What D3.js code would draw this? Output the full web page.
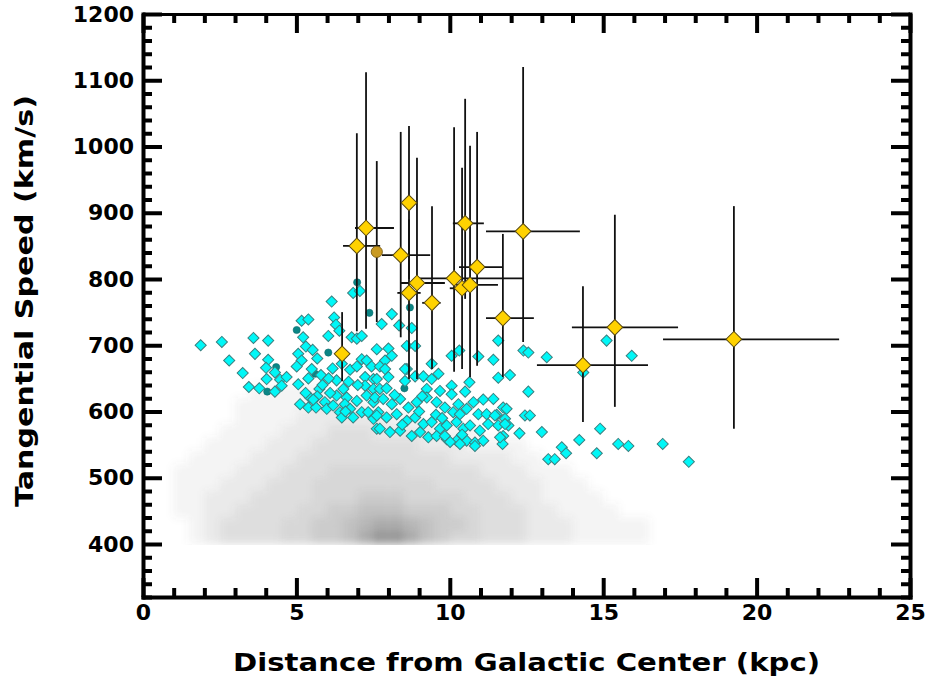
<!DOCTYPE html>
<html><head><meta charset="utf-8">
<script src="https://cdn.jsdelivr.net/npm/d3@7"></script>
<style>
body{margin:0;background:#fff;}
svg{display:block;}
</style></head><body>
<svg id="chart" width="927" height="681"></svg>
<script>
// ---------------- DATA ----------------
// Cyan diamonds (distance kpc, tangential speed km/s)
const cyanX = [1.88,2.57,3.60,4.08,2.81,3.65,4.08,3.25,4.01,4.03,4.47,4.68,4.30,3.45,3.79,4.30,4.52,5.06,5.17,5.39,
5.22,5.31,5.53,5.06,5.17,5.01,5.68,5.50,5.39,6.15,6.23,6.29,6.40,6.04,6.18,6.31,5.75,5.44,5.68,5.12,
5.39,5.64,5.93,5.99,6.20,6.31,6.53,6.64,6.58,6.42,6.48,6.75,6.85,6.97,6.80,6.97,7.13,6.85,7.07,6.75,
6.97,7.13,7.29,7.45,7.24,7.51,7.24,7.51,7.29,7.51,7.13,7.34,7.51,7.67,7.62,6.48,
8.11,7.78,8.35,8.76,7.62,8.00,8.11,8.60,8.87,7.89,8.60,8.87,9.14,9.41,9.41,9.63,10.06,10.31,10.64,10.93,
11.42,11.58,11.58,11.96,12.40,12.56,13.16,12.56,12.45,12.61,12.27,13.00,14.90,14.22,13.65,13.79,13.21,13.42,14.79,15.49,
15.82,16.94,17.79,15.11,15.93,14.35,11.74,11.85,11.80,11.91,11.74,11.72,11.58,
7.72,7.89,8.00,7.62,7.72,7.94,8.54,8.54,10.06,9.25,9.68,10.06,10.50,11.09,11.42,10.77,11.53,7.56,7.83,8.11,
8.38,8.65,8.92,9.25,9.57,9.84,10.28,10.55,10.93,11.20,11.47,7.62,7.94,8.27,8.60,8.87,9.14,9.41,9.68,9.90,
10.22,10.44,10.66,10.98,11.25,7.72,8.05,8.38,8.76,9.03,9.30,9.57,9.90,10.22,10.55,10.82,11.09,
10.11,10.33,11.80,11.64,9.84,10.82,10.33,10.01,
5.85,6.10,6.70,7.00,5.30,5.80,8.20,8.45,9.00,9.55,9.10,9.75,10.40,6.05,6.60,5.55];
const cyanY = [700,705,711,707,677,687,678,658,666,649,648,652,659,637,635,630,639,641,737,739,
712,698,693,687,677,668,680,664,650,766,742,731,722,714,665,647,634,621,623,611,
606,606,614,604,609,624,634,621,611,599,591,604,591,616,712,710,714,779,782,663,
668,679,677,668,652,649,639,634,624,614,599,599,589,599,574,672,
747,732,730,726,694,695,684,699,699,677,664,653,653,672,649,657,684,692,644,683,
678,707,651,655,692,689,682,630,594,594,567,569,574,557,546,537,528,528,537,551,
548,551,524,707,684,659,606,604,589,579,563,551,579,
668,664,652,649,634,635,664,646,639,634,631,626,630,618,619,614,595,621,619,611,
619,606,614,621,614,606,611,604,596,596,594,594,591,596,586,591,581,584,574,579,
584,574,579,571,581,574,569,571,563,569,561,563,558,556,556,553,556,
599,596,581,561,563,548,551,554,
640,628,645,640,628,655,625,580,600,595,623,590,565,650,600,618];

// Dark teal dots
const tealX = [6.98,7.38,8.70,5.01,6.04,4.34,4.05,5.61,8.52];
const tealY = [795,749,757,723,689,667,630,657,635];

// Gold diamonds with asymmetric error bars
const starX   = [6.97,7.27,8.40,8.67,8.67,8.93,9.42,10.14,10.40,10.50,10.66,10.89,12.39,11.73,6.49,14.34,15.38,19.26];
const starY   = [850,877,836,915,779,794,764,801,786,884,791,818,872,741,687,670,727,709];
const starXlo = [6.52,6.91,7.79,8.67,8.29,8.41,9.10,9.00,10.00,10.10,10.20,10.30,11.18,11.18,6.49,12.84,13.98,16.95];
const starXhi = [7.73,8.18,9.36,8.67,9.05,9.84,9.70,12.39,10.80,11.11,11.57,11.73,14.24,12.74,6.49,16.46,17.44,22.69];
const starYlo = [721,725,712,800,649,649,664,660,664,770,652,669,705,652,646,584,607,574];
const starYhi = [1020,1112,1022,1031,890,983,910,1029,968,1072,1001,1022,1120,868,750,789,897,910];

// Brown circle
const circX = [7.62], circY = [841], circYlo = [735], circYhi = [978];

// Grey background population: relative density per 0.5 kpc x 20 km/s cell
const greyBinX0 = [1.0,1.5,2.0,2.5,3.0,3.5,4.0,4.5,5.0,5.5,6.0,6.5,7.0,7.5,8.0,8.5,9.0,9.5,10.0,10.5,11.0,11.5,12.0,12.5,13.0,13.5,14.0,14.5,15.0,15.5,16.0,16.5];
const greyBinY0 = [400,420,440,460,480,500,520,540,560,580,600,620];
const greyDensity = [
 [0,1,2,3,3,3,3,4,4,5,5,6,8,10,10,8,6,5,4,4,3,3,3,2,2,2,1,1,1,1,1,0],
 [0,1,2,3,3,3,3,4,4,5,5,6,7,8,8,7,6,5,5,4,3,3,3,2,2,2,1,1,1,1,1,0],
 [1,1,2,2,3,3,3,3,4,4,5,5,6,6,6,5,5,5,4,4,3,3,3,2,2,1,1,1,1,0,0,0],
 [1,1,2,2,2,3,3,3,3,4,4,4,5,5,5,4,4,4,4,3,3,3,2,2,1,1,1,1,0,0,0,0],
 [1,1,1,2,2,2,3,3,3,4,4,4,4,4,4,4,4,3,3,3,3,2,2,2,1,1,1,0,0,0,0,0],
 [1,1,1,1,2,2,2,3,3,3,4,4,4,4,4,3,3,3,3,3,2,2,2,1,1,1,0,0,0,0,0,0],
 [0,1,1,1,1,2,2,2,3,3,3,3,3,3,3,3,3,3,2,2,2,2,1,1,0,0,0,0,0,0,0,0],
 [0,0,1,1,1,1,2,2,2,3,3,3,3,3,3,3,2,2,2,1,1,1,1,0,0,0,0,0,0,0,0,0],
 [0,0,0,1,1,1,1,2,2,2,3,3,3,2,2,2,2,1,1,1,0,0,0,0,0,0,0,0,0,0,0,0],
 [0,0,0,0,1,1,1,1,2,2,2,2,2,2,1,1,0,0,0,0,0,0,0,0,0,0,0,0,0,0,0,0],
 [0,0,0,0,1,1,1,1,1,2,2,1,1,0,0,0,0,0,0,0,0,0,0,0,0,0,0,0,0,0,0,0],
 [0,0,0,0,0,1,1,1,1,1,0,0,0,0,0,0,0,0,0,0,0,0,0,0,0,0,0,0,0,0,0,0]
];

const xTicks = [0,5,10,15,20,25];
const yTicks = [400,500,600,700,800,900,1000,1100,1200];
const xLabel = "Distance from Galactic Center (kpc)";
const yLabel = "Tangential Speed (km/s)";

// ---------------- CHART ----------------
const svg = d3.select("#chart");
const L = 143, R = 910, T = 14, B = 597;
const x = d3.scaleLinear().domain([0,25]).range([L,R]);
const y = d3.scaleLinear().domain([320,1200]).range([B,T]);
const FONT = "'DejaVu Sans', sans-serif";

const defs = svg.append("defs");
defs.append("filter").attr("id","blur").attr("x","-10%").attr("y","-10%").attr("width","120%").attr("height","120%")
  .append("feGaussianBlur").attr("stdDeviation",4.5);
defs.append("clipPath").attr("id","cloudClip").append("rect")
  .attr("x",L).attr("y",T).attr("width",R-L).attr("height",y(400)-T+1);

// grey cloud
const cloud = svg.append("g").attr("clip-path","url(#cloudClip)").append("g").attr("filter","url(#blur)");
greyDensity.forEach((row,i)=>{
  row.forEach((d,j)=>{
    if(d<=0) return;
    const x0 = greyBinX0[j], y0 = greyBinY0[i];
    cloud.append("rect")
      .attr("x",x(x0)).attr("y",y(y0+20))
      .attr("width",x(x0+0.5)-x(x0)).attr("height",y(y0)-y(y0+20))
      .attr("fill","#6a6a6a").attr("fill-opacity",d*0.07);
  });
});

// teal dots
svg.append("g").selectAll("circle").data(tealX.map((v,i)=>[v,tealY[i]])).join("circle")
  .attr("cx",d=>x(d[0])).attr("cy",d=>y(d[1])).attr("r",3.6)
  .attr("fill","#0b8585").attr("stroke","#0a6e6e").attr("stroke-width",0.6);

// cyan diamonds
const sqSmall = d3.symbol().type(d3.symbolSquare).size(62);
svg.append("g").selectAll("path").data(cyanX.map((v,i)=>[v,cyanY[i]])).join("path")
  .attr("d",sqSmall)
  .attr("transform",d=>`translate(${x(d[0])},${y(d[1])}) rotate(45)`)
  .attr("fill","#00f7f7").attr("stroke","#3a8080").attr("stroke-width",1);

// error bars
const eb = svg.append("g").attr("stroke","#111").attr("stroke-width",1.8);
starX.forEach((v,i)=>{
  eb.append("line").attr("x1",x(starXlo[i])).attr("x2",x(starXhi[i])).attr("y1",y(starY[i])).attr("y2",y(starY[i]));
  eb.append("line").attr("x1",x(v)).attr("x2",x(v)).attr("y1",y(starYlo[i])).attr("y2",y(starYhi[i]));
});
circX.forEach((v,i)=>{
  eb.append("line").attr("x1",x(v)).attr("x2",x(v)).attr("y1",y(circYlo[i])).attr("y2",y(circYhi[i]));
});

// brown circle
svg.append("g").selectAll("circle").data(circX.map((v,i)=>[v,circY[i]])).join("circle")
  .attr("cx",d=>x(d[0])).attr("cy",d=>y(d[1])).attr("r",5.6)
  .attr("fill","#c99a22").attr("stroke","#7a5c10").attr("stroke-width",0.9);

// gold diamonds
const sqBig = d3.symbol().type(d3.symbolSquare).size(124);
svg.append("g").selectAll("path").data(starX.map((v,i)=>[v,starY[i]])).join("path")
  .attr("d",sqBig)
  .attr("transform",d=>`translate(${x(d[0])},${y(d[1])}) rotate(45)`)
  .attr("fill","#ffd200").attr("stroke","#5a4a10").attr("stroke-width",1);

// axes
function styleAxis(g, w){
  g.selectAll(".domain").attr("stroke","#000").attr("stroke-width",w).attr("stroke-linecap","square");
  g.selectAll(".tick line").attr("stroke","#000").attr("stroke-width",4);
  g.selectAll("text").attr("font-family",FONT).attr("font-weight","bold").attr("font-size",22).attr("fill","#000");
}
const xMinor = d3.range(0,26,1).filter(v=>v%5!==0);
const yMinor = d3.range(320,1201,20).filter(v=>v%100!==0);

// minor ticks
svg.append("g").attr("transform",`translate(0,${B})`).call(d3.axisBottom(x).tickValues(xMinor).tickSize(-9).tickFormat("")).call(g=>{g.select(".domain").remove();styleAxis(g,4);});
svg.append("g").attr("transform",`translate(0,${T})`).call(d3.axisTop(x).tickValues(xMinor).tickSize(-9).tickFormat("")).call(g=>{g.select(".domain").remove();styleAxis(g,4);});
svg.append("g").attr("transform",`translate(${L},0)`).call(d3.axisLeft(y).tickValues(yMinor).tickSize(-9).tickFormat("")).call(g=>{g.select(".domain").remove();styleAxis(g,4);});
svg.append("g").attr("transform",`translate(${R},0)`).call(d3.axisRight(y).tickValues(yMinor).tickSize(-9).tickFormat("")).call(g=>{g.select(".domain").remove();styleAxis(g,4);});

// major ticks + frame
svg.append("g").attr("transform",`translate(0,${B})`)
  .call(d3.axisBottom(x).tickValues(xTicks).tickSizeInner(-19).tickSizeOuter(0).tickPadding(7).tickFormat(d3.format("d")))
  .call(g=>styleAxis(g,4));
svg.append("g").attr("transform",`translate(0,${T})`)
  .call(d3.axisTop(x).tickValues(xTicks).tickSizeInner(-19).tickSizeOuter(0).tickFormat(""))
  .call(g=>styleAxis(g,3));
svg.append("g").attr("transform",`translate(${L},0)`)
  .call(d3.axisLeft(y).tickValues(yTicks).tickSizeInner(-19).tickSizeOuter(0).tickPadding(9).tickFormat(d3.format("d")))
  .call(g=>styleAxis(g,4));
svg.append("g").attr("transform",`translate(${R},0)`)
  .call(d3.axisRight(y).tickValues(yTicks).tickSizeInner(-19).tickSizeOuter(0).tickFormat(""))
  .call(g=>styleAxis(g,4));

// titles
svg.append("text").attr("x",(L+R)/2).attr("y",671).attr("text-anchor","middle")
  .attr("font-family",FONT).attr("font-weight","bold").attr("font-size",25)
  .attr("textLength",587).attr("lengthAdjust","spacingAndGlyphs").text(xLabel);
svg.append("text").attr("transform","translate(33,301) rotate(-90)").attr("text-anchor","middle")
  .attr("font-family",FONT).attr("font-weight","bold").attr("font-size",25)
  .attr("textLength",412).attr("lengthAdjust","spacingAndGlyphs").text(yLabel);
</script>
</body></html>
